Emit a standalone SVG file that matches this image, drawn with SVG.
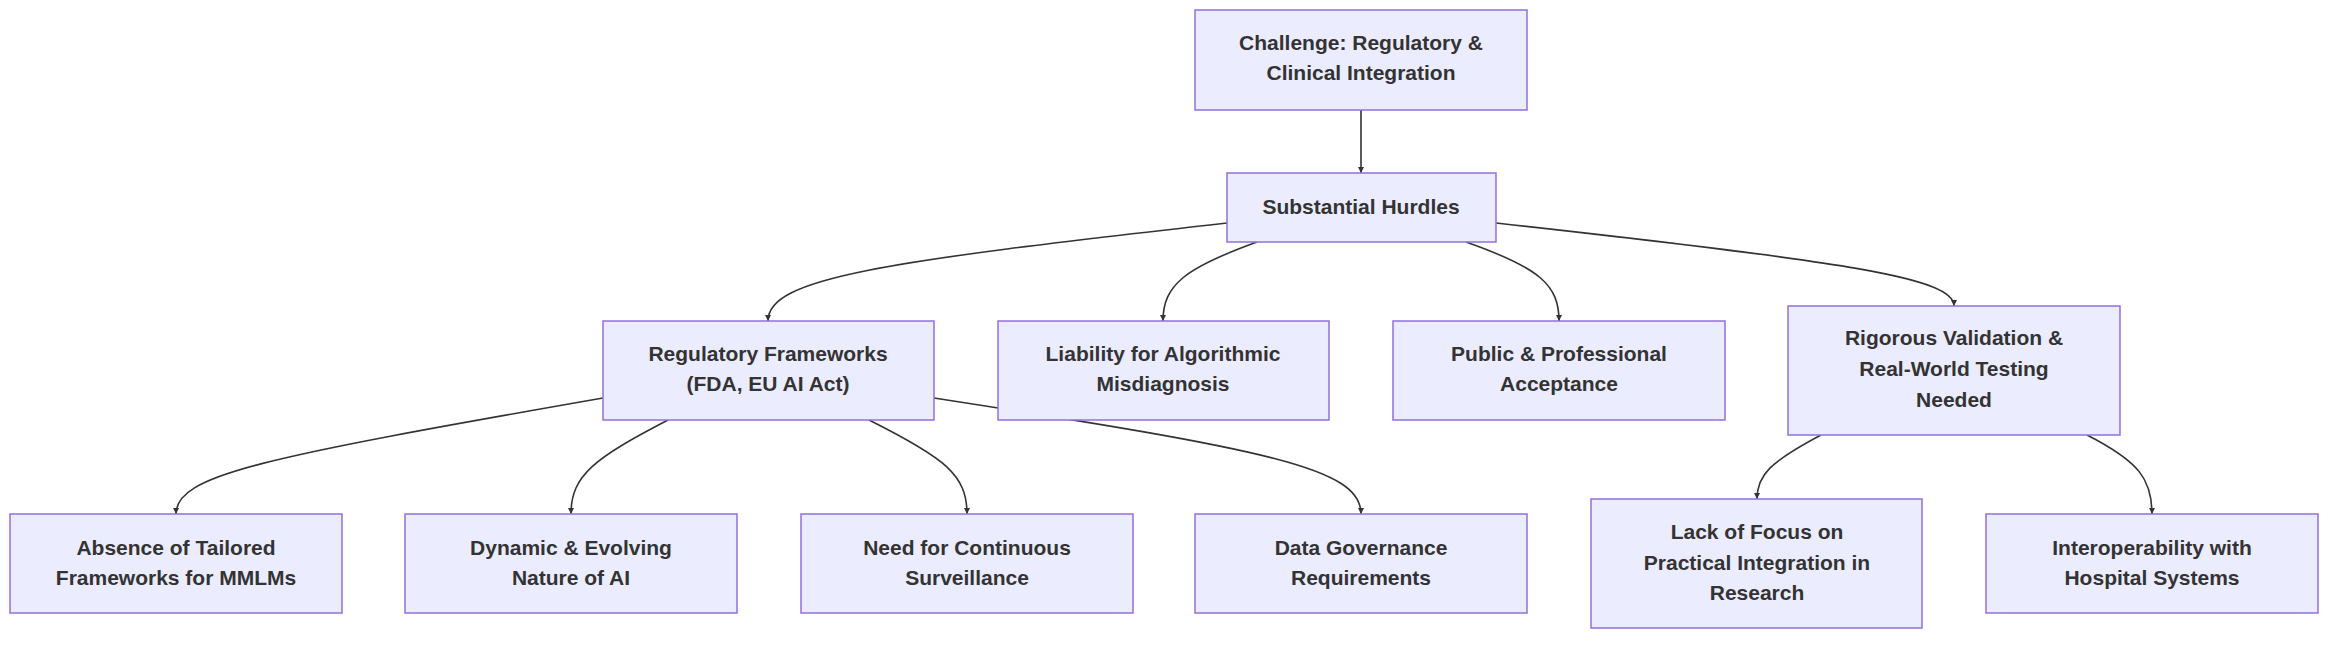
<svg xmlns="http://www.w3.org/2000/svg" width="2352" height="648" viewBox="0 0 2352 648">
<style>
.n rect{fill:#ECECFF;stroke:#9370DB;stroke-width:1.5}
.n text{font-family:"Liberation Sans",Arial,sans-serif;font-weight:bold;font-size:21px;fill:#333;text-anchor:middle}
.e path{fill:none;stroke:#333;stroke-width:1.6;marker-end:url(#a)}
</style>
<defs><marker id="a" viewBox="0 0 10 10" refX="10" refY="5" markerWidth="6" markerHeight="6" markerUnits="userSpaceOnUse" orient="auto"><path d="M0,0L10,5L0,10z" fill="#333"/></marker></defs>
<rect width="2352" height="648" fill="#fff"/>
<g id="edges" class="e">
<path d="M1361,110 L1361,173" style="marker-end:url(#a)"/>
<path d="M1227,223 C880,262 768,278 768,321"/>
<path d="M1257,242 C1185,268 1163,285 1163,321"/>
<path d="M1466,242 C1540,268 1559,285 1559,321"/>
<path d="M1496,223 C1850,262 1954,278 1954,306"/>
<path d="M603,398 C260,458 176,475 176,514"/>
<path d="M668,420 C595,458 571,475 571,514"/>
<path d="M869,420 C945,458 967,475 967,514"/>
<path d="M934,398 C1270,450 1361,468 1361,514"/>
<path d="M1821,435 C1770,462 1757,475 1757,499"/>
<path d="M2087,435 C2140,462 2152,480 2152,514"/>
</g>
<g id="n1" class="n"><rect x="1195" y="10" width="332" height="100"/><text x="1361" y="50">Challenge: Regulatory &amp;</text><text x="1361" y="80">Clinical Integration</text></g>
<g id="n2" class="n"><rect x="1227" y="173" width="269" height="69"/><text x="1361" y="214">Substantial Hurdles</text></g>
<g id="n3" class="n"><rect x="603" y="321" width="331" height="99"/><text x="768" y="361">Regulatory Frameworks</text><text x="768" y="391">(FDA, EU AI Act)</text></g>
<g id="n4" class="n"><rect x="998" y="321" width="331" height="99"/><text x="1163" y="361">Liability for Algorithmic</text><text x="1163" y="391">Misdiagnosis</text></g>
<g id="n5" class="n"><rect x="1393" y="321" width="332" height="99"/><text x="1559" y="361">Public &amp; Professional</text><text x="1559" y="391">Acceptance</text></g>
<g id="n6" class="n"><rect x="1788" y="306" width="332" height="129"/><text x="1954" y="345">Rigorous Validation &amp;</text><text x="1954" y="376">Real-World Testing</text><text x="1954" y="407">Needed</text></g>
<g id="n7" class="n"><rect x="10" y="514" width="332" height="99"/><text x="176" y="555">Absence of Tailored</text><text x="176" y="585">Frameworks for MMLMs</text></g>
<g id="n8" class="n"><rect x="405" y="514" width="332" height="99"/><text x="571" y="555">Dynamic &amp; Evolving</text><text x="571" y="585">Nature of AI</text></g>
<g id="n9" class="n"><rect x="801" y="514" width="332" height="99"/><text x="967" y="555">Need for Continuous</text><text x="967" y="585">Surveillance</text></g>
<g id="n10" class="n"><rect x="1195" y="514" width="332" height="99"/><text x="1361" y="555">Data Governance</text><text x="1361" y="585">Requirements</text></g>
<g id="n11" class="n"><rect x="1591" y="499" width="331" height="129"/><text x="1757" y="539">Lack of Focus on</text><text x="1757" y="570">Practical Integration in</text><text x="1757" y="600">Research</text></g>
<g id="n12" class="n"><rect x="1986" y="514" width="332" height="99"/><text x="2152" y="555">Interoperability with</text><text x="2152" y="585">Hospital Systems</text></g>
</svg>
